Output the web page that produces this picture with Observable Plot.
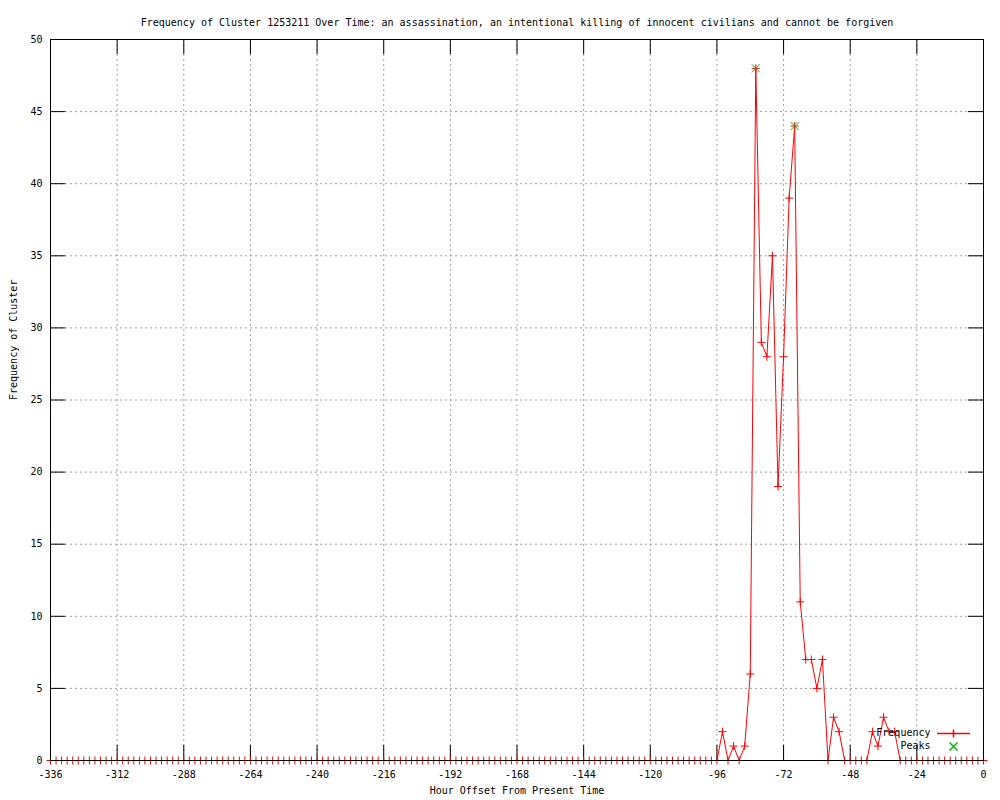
<!DOCTYPE html>
<html>
<head>
<meta charset="utf-8">
<script src="https://cdn.jsdelivr.net/npm/d3@7"></script>
<script src="https://cdn.jsdelivr.net/npm/@observablehq/plot@0.6"></script>
<style>
  html, body { margin: 0; padding: 0; background: #fff; }
  #chart svg { display: block; }
</style>
</head>
<body>
<div id="chart"></div>
<script>
// ---- data ----
const titleText = "Frequency of Cluster 1253211 Over Time: an assassination, an intentional killing of innocent civilians and cannot be forgiven";
const xLabel = "Hour Offset From Present Time";
const yLabel = "Frequency of Cluster";

// hour offsets sampled every 2 hours from -336 to 0
const hours = d3.range(-336, 1, 2);
// frequency per sample (169 values, -336 ... 0)
const frequency = [
  0,0,0,0,0,0,0,0,0,0, 0,0,0,0,0,0,0,0,0,0,   // -336 .. -298
  0,0,0,0,0,0,0,0,0,0, 0,0,0,0,0,0,0,0,0,0,   // -296 .. -258
  0,0,0,0,0,0,0,0,0,0, 0,0,0,0,0,0,0,0,0,0,   // -256 .. -218
  0,0,0,0,0,0,0,0,0,0, 0,0,0,0,0,0,0,0,0,0,   // -216 .. -178
  0,0,0,0,0,0,0,0,0,0, 0,0,0,0,0,0,0,0,0,0,   // -176 .. -138
  0,0,0,0,0,0,0,0,0,0, 0,0,0,0,0,0,0,0,0,     // -136 .. -100
  0,0,2,0,1,0,1,6,48,29,                      // -98 .. -80
  28,35,19,28,39,44,11,7,7,5,                 // -78 .. -60
  7,0,3,2,0,0,0,0,0,2,                        // -58 .. -40
  1,3,2,2,0,                                  // -38 .. -30
  0,0,0,0,0,0,0,0,0,0,0,0,0,0,0               // -28 .. 0
];
const peakHours = [-82, -68];
const peakValues = [48, 44];

const xTicks = [-336, -312, -288, -264, -240, -216, -192, -168, -144, -120, -96, -72, -48, -24, 0];
const yTicks = [0, 5, 10, 15, 20, 25, 30, 35, 40, 45, 50];
const xDomain = [-336, 0];
const yDomain = [0, 50];

const series = hours.map((h, i) => ({hour: h, value: frequency[i]}));
const peaks = peakHours.map((h, i) => ({hour: h, value: peakValues[i]}));

// ---- symbols ----
const plusSym = {draw(ctx, size) { const r = Math.sqrt(size / Math.PI);
  ctx.moveTo(-r, 0); ctx.lineTo(r, 0); ctx.moveTo(0, -r); ctx.lineTo(0, r); }};
const timesSym = {draw(ctx, size) { const r = Math.sqrt(size / Math.PI);
  ctx.moveTo(-r, -r); ctx.lineTo(r, r); ctx.moveTo(-r, r); ctx.lineTo(r, -r); }};
const legendLineSym = {draw(ctx, size) { const r = Math.sqrt(size / Math.PI);
  ctx.moveTo(-16.5, 0); ctx.lineTo(16.5, 0); ctx.moveTo(0, -r); ctx.lineTo(0, r); }};

const W = 1000, H = 800, mT = 39, mB = 40, mL = 50, mR = 17;
const innerW = W - mL - mR, innerH = H - mT - mB;
const TL = 15; // inward tick length in px
const tickDY = (yDomain[1] - yDomain[0]) * TL / innerH;
const tickDX = (xDomain[1] - xDomain[0]) * TL / innerW;

const font = "'DejaVu Sans Mono', 'Liberation Mono', monospace";
const red = "#ff0000", green = "#00c000";
const fs = "10px";

const chart = Plot.plot({
  width: W, height: H,
  marginTop: mT, marginBottom: mB, marginLeft: mL, marginRight: mR,
  style: {fontFamily: font, fontSize: fs, color: "#000", background: "#fff"},
  x: {domain: xDomain},
  y: {domain: yDomain},
  marks: [
    Plot.gridX({ticks: xTicks, stroke: "#a0a0a0", strokeOpacity: 1, strokeDasharray: "2,3"}),
    Plot.gridY({ticks: yTicks, stroke: "#a0a0a0", strokeOpacity: 1, strokeDasharray: "2,3"}),
    // inward major ticks (bottom, top, left, right)
    Plot.ruleX(xTicks, {x: d => d, y1: yDomain[0], y2: yDomain[0] + tickDY, stroke: "#000", strokeOpacity: 1}),
    Plot.ruleX(xTicks, {x: d => d, y1: yDomain[1] - tickDY, y2: yDomain[1], stroke: "#000", strokeOpacity: 1}),
    Plot.ruleY(yTicks, {y: d => d, x1: xDomain[0], x2: xDomain[0] + tickDX, stroke: "#000", strokeOpacity: 1}),
    Plot.ruleY(yTicks, {y: d => d, x1: xDomain[1] - tickDX, x2: xDomain[1], stroke: "#000", strokeOpacity: 1}),
    Plot.axisX({ticks: xTicks, tickSize: 0, tickPadding: 10, tickFormat: d => `${d}`, label: null, fontSize: fs}),
    Plot.axisY({ticks: yTicks, tickSize: 0, tickPadding: 8, tickFormat: d => `${d}`, label: null, fontSize: fs}),
    Plot.line(series, {x: "hour", y: "value", stroke: red, strokeWidth: 1}),
    Plot.dot(series, {x: "hour", y: "value", symbol: plusSym, r: 4, stroke: red, strokeWidth: 1}),
    Plot.frame({stroke: "#000", strokeWidth: 1}),
    Plot.dot(peaks, {x: "hour", y: "value", symbol: timesSym, r: 4, stroke: green, strokeWidth: 1}),
    // legend (inside lower-right of frame)
    Plot.text(["Frequency"], {frameAnchor: "bottom-right", dx: -53, dy: -25, textAnchor: "end", fill: "#000"}),
    Plot.dot(["Frequency"], {frameAnchor: "bottom-right", dx: -30, dy: -27, symbol: legendLineSym, r: 4, stroke: red}),
    Plot.text(["Peaks"], {frameAnchor: "bottom-right", dx: -53, dy: -12, textAnchor: "end", fill: "#000"}),
    Plot.dot(["Peaks"], {frameAnchor: "bottom-right", dx: -30, dy: -14, symbol: timesSym, r: 4, stroke: green}),
    // titles
    Plot.text([titleText], {frameAnchor: "top", dy: -21, fill: "#000"}),
    Plot.text([xLabel], {frameAnchor: "bottom", dy: 33, fill: "#000"}),
    Plot.text([yLabel], {frameAnchor: "left", dx: -37, rotate: -90, fill: "#000"})
  ]
});
document.getElementById("chart").appendChild(chart);
</script>
</body>
</html>
